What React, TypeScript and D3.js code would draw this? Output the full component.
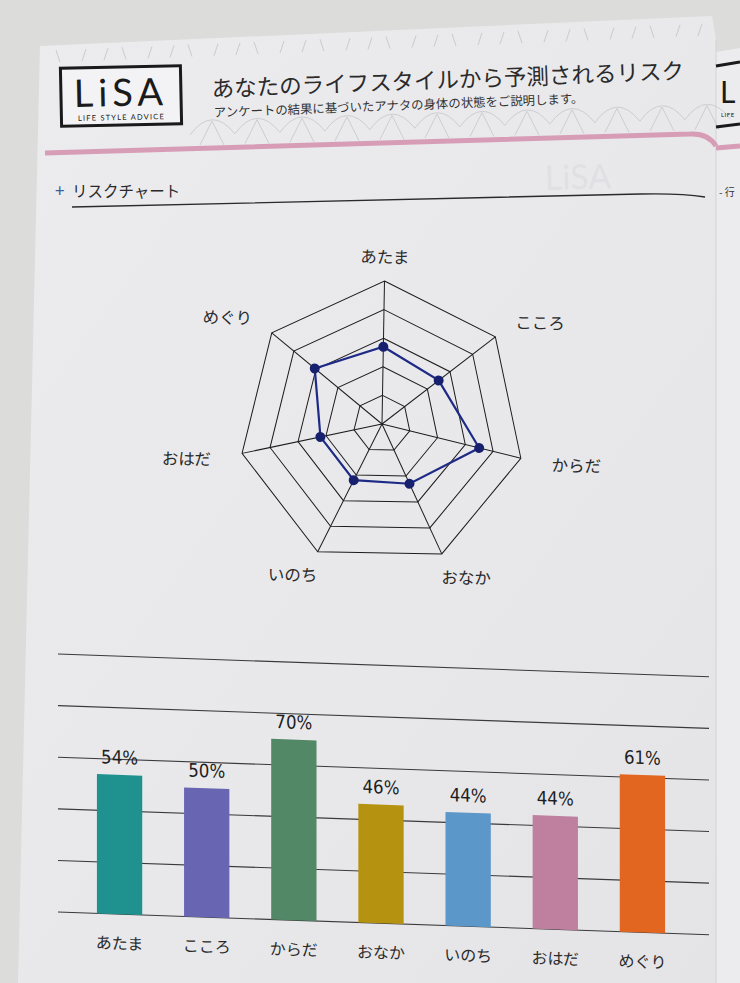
import React from 'react';
import * as d3 from 'd3';

// Risk chart values (%), same order for radar and bars
const categories = ['あたま', 'こころ', 'からだ', 'おなか', 'いのち', 'おはだ', 'めぐり'];
const riskValues = [54, 50, 70, 46, 44, 44, 61];
const barColors = ['#1f9290', '#6866b2', '#528866', '#b5920f', '#5b97c9', '#bf7f9f', '#e2661f'];
const gridTicks = [0, 20, 40, 60, 80, 100];
const radarRings = [20, 40, 60, 80, 100];

const W = 740;
const H = 983;
const JP = '"Noto Sans CJK JP", "Noto Sans", sans-serif';

const App: React.FC = () => {
  // Radar geometry
  const cx = 382;
  const cy = 424;
  const R = 143;
  const n = categories.length;
  const angle = d3.scaleLinear().domain([0, n]).range([-Math.PI / 2, (3 * Math.PI) / 2]);
  const rScale = d3.scaleLinear().domain([0, 100]).range([0, R]);
  const pt = (i: number, v: number): [number, number] => [
    Math.cos(angle(i)) * rScale(v),
    Math.sin(angle(i)) * rScale(v),
  ];
  const closed = d3.line<[number, number]>().curve(d3.curveLinearClosed);
  const dataPts = riskValues.map((v, i) => pt(i, v));

  // Bar chart geometry (drawn in a slightly skewed group to follow the photo)
  const x = d3.scaleBand<string>().domain(categories).range([76, 686]).paddingInner(0.48).paddingOuter(0.24);
  const y = d3.scaleLinear().domain([0, 100]).range([910, 652]);

  // decorative lace scallops along the header
  const scallops = d3.range(0, 12);

  return (
    <svg
      width={W}
      height={H}
      viewBox={`0 0 ${W} ${H}`}
      style={{ position: 'absolute', left: 0, top: 0, display: 'block' }}
    >
      <defs>
        <linearGradient id="pageGrad" x1="0" y1="0" x2="1" y2="1">
          <stop offset="0%" stopColor="#ececef" />
          <stop offset="60%" stopColor="#e8e8eb" />
          <stop offset="100%" stopColor="#e4e4e7" />
        </linearGradient>
      </defs>

      {/* desk / background */}
      <rect x={0} y={0} width={W} height={H} fill="#dcdcdb" />
      {/* main page */}
      <path d="M40,46 L712,16 L716,40 L716,983 L18,983 Z" fill="url(#pageGrad)" />
      {/* next page peeking on the right */}
      <path d="M716,52 L740,48 L740,983 L716,983 Z" fill="#ececee" />
      <line x1={716} y1={40} x2={716} y2={983} stroke="#d2d2d5" strokeWidth={1} />

      {/* faint hatch decoration at top */}
      <g stroke="#c6c6cb" strokeWidth={1} opacity={0.85}>
        {d3.range(0, 30).map((k) => {
          const hx = 60 + k * 22;
          const hy = 62 - k * 0.9;
          return <line key={k} x1={hx} y1={hy} x2={hx + (k % 3 === 0 ? -4 : 4)} y2={hy - 12} />;
        })}
      </g>
      {/* faint lace scallops */}
      <g fill="none" stroke="#cdcdd2" strokeWidth={1}>
        {scallops.map((k) => {
          const sx = 190 + k * 45;
          const sy = 135 - k * 1.4;
          return (
            <g key={k}>
              <path d={`M${sx},${sy} Q${sx + 22},${sy - 30} ${sx + 45},${sy - 1}`} />
              <line x1={sx + 22} y1={sy - 14} x2={sx + 10} y2={sy + 10} />
              <line x1={sx + 22} y1={sy - 14} x2={sx + 34} y2={sy + 10} />
            </g>
          );
        })}
      </g>

      {/* LiSA logo */}
      <g transform="rotate(-1.2 120 96)">
        <rect x={61} y={67} width={120} height={58} fill="#f3f3f5" stroke="#1a1a1a" strokeWidth={3} />
        <text x={121} y={106} textAnchor="middle" fontFamily="Lato, 'Open Sans', sans-serif" fontSize={38} letterSpacing={5} fill="#1a1a1a">
          LiSA
        </text>
        <text x={121} y={120} textAnchor="middle" fontFamily="Lato, 'Open Sans', sans-serif" fontSize={7.5} letterSpacing={1.2} fill="#1a1a1a">
          LIFE STYLE ADVICE
        </text>
      </g>

      {/* title */}
      <text x={212} y={97} transform="rotate(-2.2 212 97)" fontFamily={JP} fontSize={22.5} fill="#2a2a2a">
        あなたのライフスタイルから予測されるリスク
      </text>
      <text x={214} y={117} transform="rotate(-2.2 214 117)" fontFamily={JP} fontSize={12.4} fill="#333">
        アンケートの結果に基づいたアナタの身体の状態をご説明します。
      </text>

      {/* pink band */}
      <path d="M45,153 L690,134 Q708,133 716,146" fill="none" stroke="#d79db6" strokeWidth={5} />
      <path d="M716,148 L740,146" stroke="#d79db6" strokeWidth={5} />

      {/* right page fragments */}
      <line x1={716} y1={66} x2={740} y2={62} stroke="#1a1a1a" strokeWidth={3} />
      <text x={720} y={103} fontFamily="Lato, sans-serif" fontSize={30} fill="#1a1a1a">L</text>
      <text x={721} y={117} fontFamily="Lato, sans-serif" fontSize={6} letterSpacing={0.5} fill="#1a1a1a">LIFE</text>
      <line x1={716} y1={127} x2={740} y2={124} stroke="#1a1a1a" strokeWidth={3} />
      <text x={719} y={196} fontFamily={JP} fontSize={10} fill="#333">- 行</text>

      {/* show-through ghost text */}
      <text x={545} y={190} fontFamily="Lato, sans-serif" fontSize={34} fill="#e0e0e4" transform="rotate(-1.5 545 190)">
        LiSA
      </text>

      {/* section heading */}
      <text x={55} y={197} fontFamily={JP} fontSize={17} fill="#3a5d9c">+</text>
      <text x={72} y={197} fontFamily={JP} fontSize={15.5} fill="#2a2a2a">リスクチャート</text>
      <path d="M72,207 L640,194 Q680,193 705,197" fill="none" stroke="#2a2a2a" strokeWidth={1.3} />

      {/* radar chart */}
      <g transform={`translate(${cx},${cy}) rotate(1)`}>
        <g fill="none" stroke="#1c1c1c" strokeWidth={1}>
          {radarRings.map((rv) => (
            <path key={rv} d={closed(categories.map((_, i) => pt(i, rv))) || ''} />
          ))}
          {categories.map((c, i) => {
            const [px, py] = pt(i, 100);
            return <line key={c} x1={0} y1={0} x2={px} y2={py} />;
          })}
        </g>
        <path d={closed(dataPts) || ''} fill="none" stroke="#1d2a86" strokeWidth={2.2} />
        {dataPts.map(([px, py], i) => (
          <circle key={i} cx={px} cy={py} r={5} fill="#17206f" />
        ))}
        {categories.map((c, i) => {
          const a = angle(i);
          const lx = Math.cos(a) * 200;
          const ly = Math.sin(a) * 168;
          return (
            <text key={c} x={lx} y={ly} textAnchor="middle" dominantBaseline="central" fontFamily={JP} fontSize={16.5} fill="#2a2a2a">
              {c}
            </text>
          );
        })}
      </g>

      {/* bar chart */}
      <g transform="skewY(2)">
        <g stroke="#3a3a3a" strokeWidth={1.1}>
          {gridTicks.map((t) => (
            <line key={t} x1={58} x2={709} y1={y(t)} y2={y(t)} />
          ))}
        </g>
        {categories.map((c, i) => (
          <rect
            key={c}
            x={x(c)}
            y={y(riskValues[i])}
            width={x.bandwidth()}
            height={y(0) - y(riskValues[i])}
            fill={barColors[i]}
          />
        ))}
        {categories.map((c, i) => (
          <text
            key={c}
            x={(x(c) || 0) + x.bandwidth() / 2}
            y={y(riskValues[i]) - 11}
            textAnchor="middle"
            fontFamily="'DejaVu Sans Condensed', 'Liberation Sans Narrow', sans-serif"
            fontSize={18.5}
            fill="#1e1e1e"
          >
            {riskValues[i]}%
          </text>
        ))}
        {categories.map((c) => (
          <text
            key={c}
            x={(x(c) || 0) + x.bandwidth() / 2}
            y={y(0) + 35}
            textAnchor="middle"
            fontFamily={JP}
            fontSize={16}
            fill="#2a2a2a"
          >
            {c}
          </text>
        ))}
      </g>
    </svg>
  );
};

export default App;
